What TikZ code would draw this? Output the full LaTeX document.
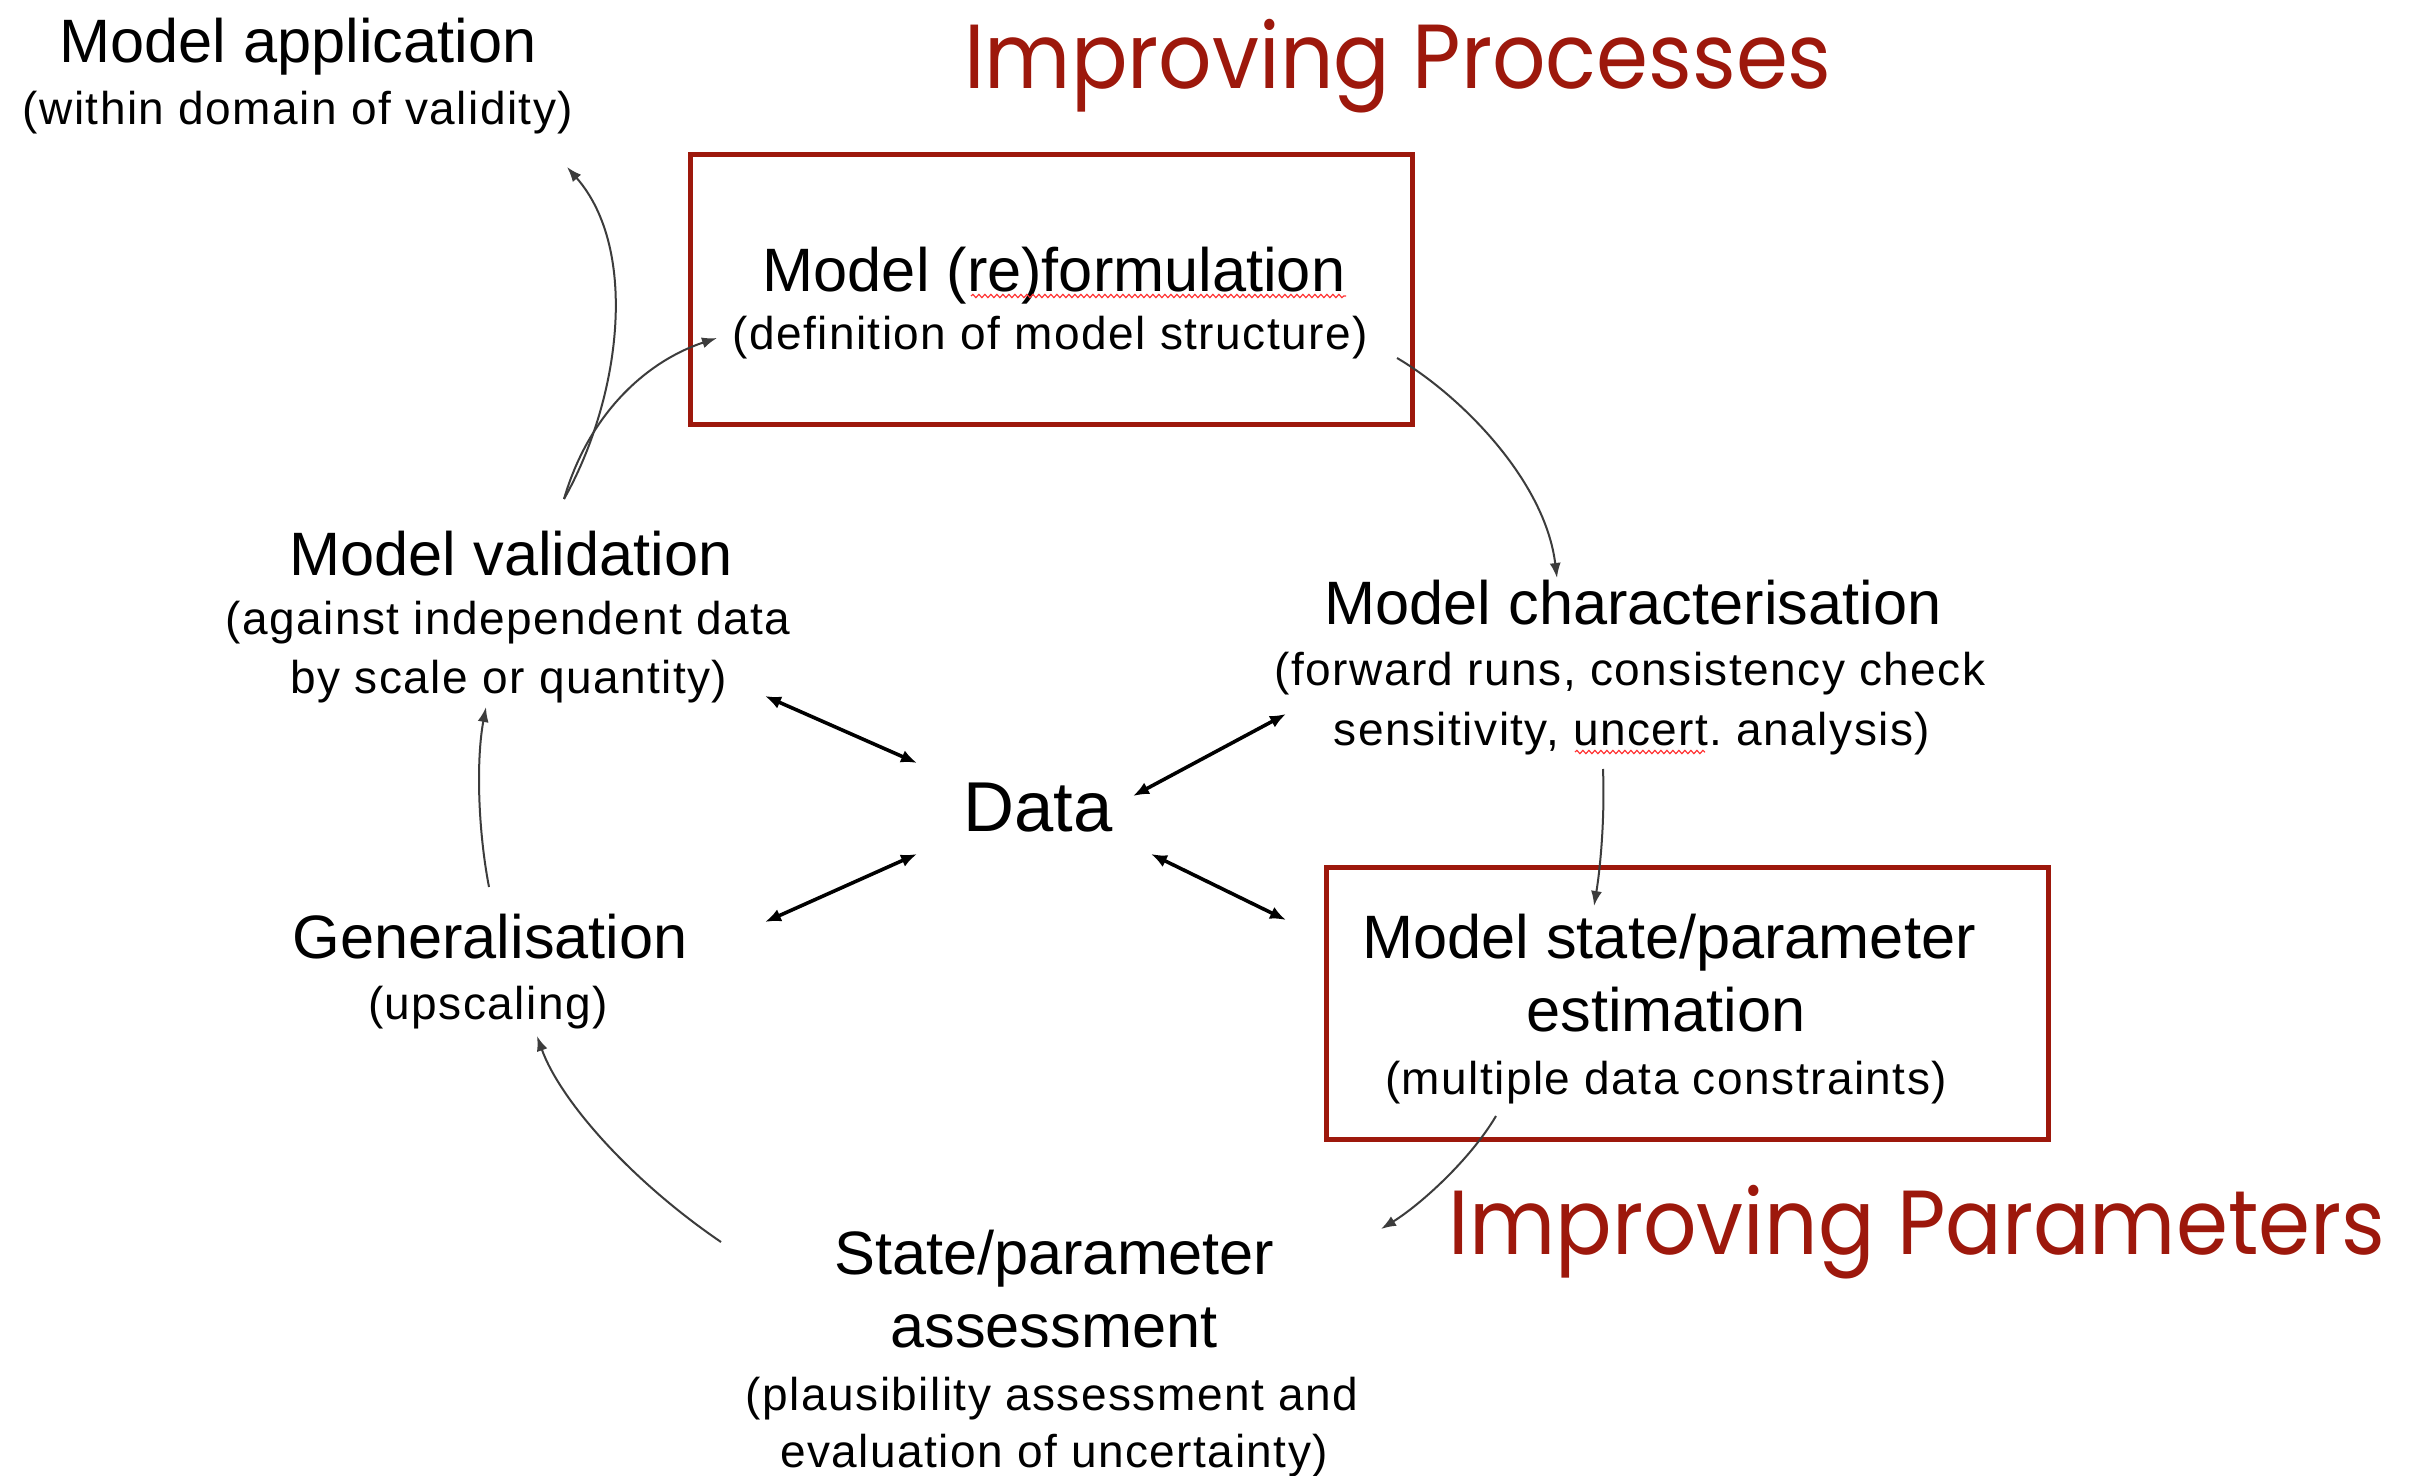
\documentclass[tikz,border=0pt]{standalone}
\usepackage{fontspec}
\setmainfont{Liberation Sans}
\newfontfamily\subfont{Liberation Sans}[LetterSpace=3.2]
\newfontfamily\redfont{Poppins}
\usetikzlibrary{arrows.meta,decorations.pathmorphing}
\definecolor{darkred}{RGB}{157,24,12}
\definecolor{linegray}{RGB}{60,60,60}
\newcommand{\narrowheading}[1]{\scalebox{0.92}[1]{#1}}
\frenchspacing
\begin{document}
\begin{tikzpicture}[x=0.5pt,y=-0.5pt,
  title/.style={anchor=base,inner sep=0pt,font=\fontsize{30.65pt}{36pt}\selectfont},
  sub/.style={anchor=base,inner sep=0pt,font=\subfont\fontsize{23pt}{28pt}\selectfont},
  bigword/.style={anchor=base,inner sep=0pt,font=\fontsize{35.3pt}{40pt}\selectfont},
  heading/.style={anchor=base,inner sep=0pt,text=darkred,font=\redfont\fontsize{45.5pt}{50pt}\selectfont},
  redbox/.style={draw=darkred,line width=2.5pt,minimum width=361pt,minimum height=135pt,inner sep=0pt},
  link/.style={draw=linegray,line width=1pt,-{Latex[length=7.5pt,width=5.5pt]}},
  exchange/.style={draw=black,line width=1.8pt,{Latex[length=8pt,width=6.5pt]}-{Latex[length=8pt,width=6.5pt]}},
  spell/.style={draw=red!80,line width=0.6pt,decorate,decoration={snake,amplitude=0.8pt,segment length=3pt}}
]
\useasboundingbox[fill=white] (0,0) rectangle (2409,1476);

% highlighted boxes
\node[redbox] (procbox) at (1051,290) {};
\node[redbox,minimum height=136pt] (parambox) at (1687,1003) {};

% headings
\node[heading] (procs) at (1398,89) {\narrowheading{Improving Processes}};
\node[heading] (params) at (1917,1254) {\narrowheading{Improving Parameters}};

% model application
\node[title] (app) at (298,63) {Model application};
\node[sub] (appsub) at (298,125) {(within domain of validity)};

% model (re)formulation
\node[title] (form) at (1054,292) {Model (re)formulation};
\node[sub] (formsub) at (1050,350) {(definition of model structure)};

% model validation
\node[title] (val) at (511,575) {Model validation};
\node[sub] (valsub1) at (508,634) {(against independent data};
\node[sub] (valsub2) at (509,693) {by scale or quantity)};

% model characterisation
\node[title] (char) at (1633,624) {Model characterisation};
\node[sub] (charsub1) at (1630,685) {(forward runs, consistency check};
\node[sub] (charsub2) at (1632,745) {sensitivity, uncert. analysis)};

% data hub
\node[bigword] (data) at (1038,831) {Data};

% generalisation
\node[title] (gen) at (490,958) {Generalisation};
\node[sub] (gensub) at (488,1019) {(upscaling)};

% estimation
\node[title] (est) at (1669,958) {Model state/parameter};
\node[title] (est2) at (1666,1031) {estimation};
\node[sub] (estsub) at (1666,1094) {(multiple data constraints)};

% assessment
\node[title] (assess) at (1054,1274) {State/parameter};
\node[title] (assess2) at (1054,1347) {assessment};
\node[sub] (assesssub1) at (1052,1410) {(plausibility assessment and};
\node[sub] (assesssub2) at (1054,1467) {evaluation of uncertainty)};

% spelling marks
\draw[spell] (971,296) -- (1346,296);
\draw[spell] (1575,752) -- (1705,752);

% connector end points
\coordinate (valout) at (564,499);
\coordinate (appin) at (567,167);
\coordinate (formin) at (717,338);
\coordinate (formout) at (1397,358);
\coordinate (charin) at (1557,578);
\coordinate (charout) at (1603,769);
\coordinate (estin) at (1594,906);
\coordinate (estout) at (1496,1116);
\coordinate (assessin) at (1381,1229);
\coordinate (assessout) at (721,1242);
\coordinate (genin) at (537,1036);
\coordinate (genout) at (489,887);
\coordinate (valin) at (486,707);

% cycle
\draw[link] (valout) .. controls (620,400) and (640,250) .. (appin);
\draw[link] (valout) .. controls (590,410) and (650,360) .. (formin);
\draw[link] (formout) .. controls (1460,395) and (1545,480) .. (charin);
\draw[link] (charout) .. controls (1605,820) and (1600,870) .. (estin);
\draw[link] (estout) .. controls (1470,1160) and (1420,1205) .. (assessin);
\draw[link] (assessout) .. controls (630,1180) and (560,1100) .. (genin);
\draw[link] (genout) .. controls (478,830) and (476,760) .. (valin);

% exchanges with the data hub
\coordinate (dnw) at (917,763);
\coordinate (dsw) at (917,854);
\coordinate (dne) at (1133,796);
\coordinate (dse) at (1151,854);
\coordinate (valx) at (765,696);
\coordinate (genx) at (765,922);
\coordinate (charx) at (1286,714);
\coordinate (estx) at (1286,920);
\draw[exchange] (valx) -- (dnw);
\draw[exchange] (genx) -- (dsw);
\draw[exchange] (dne) -- (charx);
\draw[exchange] (dse) -- (estx);
\end{tikzpicture}
\end{document}
